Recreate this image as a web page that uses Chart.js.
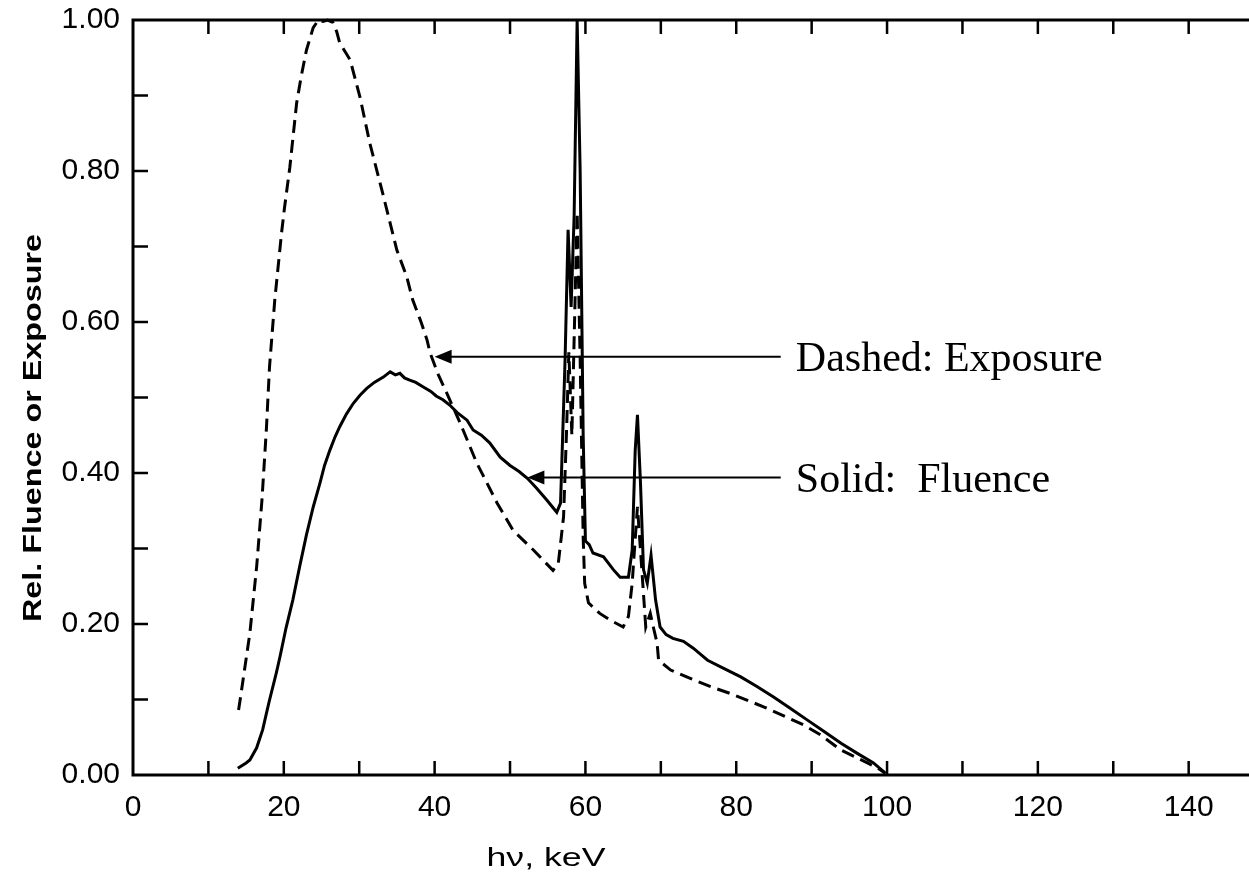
<!DOCTYPE html>
<html>
<head>
<meta charset="utf-8">
<script src="https://cdn.jsdelivr.net/npm/chart.js@4.4.1/dist/chart.umd.min.js"></script>
<style>
  html, body { margin: 0; padding: 0; background: #fff; }
  #wrap { width: 1249px; height: 882px; }
</style>
</head>
<body>
<div id="wrap"><canvas id="spectrum" width="1249" height="882"></canvas></div>
<script>
// photon energy (keV) and relative values
const fluenceKeV = [13.9, 15.0, 15.5, 16.4, 17.2, 17.7, 18.1, 19.0, 19.5, 20.3, 21.2, 22.1, 23.0, 23.9, 24.8, 25.4, 26.1, 26.8, 27.4, 28.3, 29.2, 30.1, 31.0, 32.0, 33.2, 34.1, 34.8, 35.4, 36.0, 36.7, 37.5, 38.5, 39.5, 40.2, 41.1, 42.0, 43.0, 44.3, 45.1, 46.2, 47.3, 48.7, 50.0, 51.2, 52.3, 53.5, 54.9, 56.2, 56.7, 57.3, 57.7, 58.1, 58.5, 58.9, 59.3, 59.7, 60.0, 60.5, 61.0, 62.4, 63.7, 64.6, 65.7, 66.2, 66.6, 66.9, 67.3, 67.7, 68.2, 68.7, 69.3, 69.9, 70.7, 71.6, 73.0, 74.3, 76.2, 78.4, 80.6, 82.8, 85.0, 87.2, 89.4, 91.6, 93.9, 96.0, 98.2, 99.7];
const fluence = [0.009, 0.016, 0.020, 0.036, 0.060, 0.082, 0.099, 0.135, 0.157, 0.195, 0.232, 0.276, 0.318, 0.355, 0.387, 0.410, 0.430, 0.448, 0.461, 0.478, 0.492, 0.503, 0.512, 0.520, 0.527, 0.534, 0.530, 0.532, 0.526, 0.523, 0.520, 0.514, 0.508, 0.502, 0.497, 0.490, 0.480, 0.470, 0.457, 0.450, 0.440, 0.421, 0.410, 0.402, 0.393, 0.380, 0.364, 0.348, 0.360, 0.550, 0.722, 0.620, 0.740, 1.000, 0.800, 0.450, 0.310, 0.305, 0.294, 0.289, 0.272, 0.262, 0.262, 0.298, 0.430, 0.477, 0.387, 0.272, 0.254, 0.291, 0.232, 0.196, 0.186, 0.181, 0.177, 0.168, 0.152, 0.141, 0.130, 0.117, 0.103, 0.088, 0.073, 0.058, 0.042, 0.029, 0.016, 0.003];

const exposureKeV = [14.0, 14.2, 15.5, 16.4, 17.1, 17.7, 18.1, 18.8, 19.7, 20.1, 20.8, 21.7, 22.3, 23.0, 23.9, 24.6, 25.2, 25.8, 26.5, 27.0, 27.4, 28.8, 30.1, 31.4, 33.1, 35.0, 36.3, 37.1, 38.2, 39.0, 39.4, 40.5, 41.6, 43.4, 45.6, 48.3, 50.4, 53.1, 55.7, 56.4, 57.1, 57.5, 57.8, 58.2, 58.9, 59.3, 59.7, 59.9, 60.4, 61.9, 63.3, 65.0, 65.7, 66.2, 66.5, 66.9, 67.3, 68.0, 68.6, 69.0, 69.5, 69.7, 71.3, 73.9, 76.6, 79.2, 83.7, 89.0, 91.2, 93.9, 97.4, 99.1, 99.8];
const exposure = [0.086, 0.099, 0.188, 0.276, 0.364, 0.460, 0.540, 0.629, 0.718, 0.752, 0.805, 0.890, 0.925, 0.960, 0.990, 1.000, 0.998, 1.000, 0.997, 0.985, 0.970, 0.947, 0.898, 0.837, 0.771, 0.695, 0.660, 0.629, 0.600, 0.576, 0.559, 0.530, 0.506, 0.466, 0.413, 0.360, 0.324, 0.298, 0.271, 0.280, 0.342, 0.457, 0.560, 0.450, 0.745, 0.550, 0.315, 0.254, 0.228, 0.214, 0.205, 0.196, 0.210, 0.254, 0.298, 0.355, 0.298, 0.196, 0.214, 0.196, 0.175, 0.152, 0.139, 0.128, 0.117, 0.108, 0.090, 0.066, 0.053, 0.033, 0.016, 0.007, 0.002];

const xTickLabels = [0, 20, 40, 60, 80, 100, 120, 140];
const yTickLabels = ['0.00', '0.20', '0.40', '0.60', '0.80', '1.00'];

// arrow callouts: text, arrow tip (keV, value), arrow tail keV
const noteText = ['Dashed: Exposure', 'Solid:  Fluence'];
const noteTipKeV = [40.0, 52.3];
const noteTipVal = [0.554, 0.394];
const noteTailKeV = 85.9;
const noteTextKeV = 87.9;

const toPoints = (xs, ys) => xs.map((x, i) => ({ x: x, y: ys[i] }));

const frame = {
    id: 'frame',
    afterDatasetsDraw(chart) {
        const { ctx, chartArea: a, scales: { x, y } } = chart;
        ctx.save();
        ctx.strokeStyle = '#000';
        ctx.lineCap = 'butt';

        // axis lines: left, bottom, top
        ctx.lineWidth = 3;
        ctx.beginPath();
        ctx.moveTo(a.left, a.top);
        ctx.lineTo(a.right, a.top);
        ctx.moveTo(a.left, a.top - 1.5);
        ctx.lineTo(a.left, a.bottom + 1.5);
        ctx.moveTo(a.left, a.bottom);
        ctx.lineTo(a.right, a.bottom);
        ctx.stroke();

        // inward ticks every 10 keV and every 0.1
        ctx.lineWidth = 2.5;
        ctx.beginPath();
        for (let v = 10; v <= 140; v += 10) {
            const px = x.getPixelForValue(v);
            ctx.moveTo(px, a.bottom);
            ctx.lineTo(px, a.bottom - 14);
            ctx.moveTo(px, a.top);
            ctx.lineTo(px, a.top + 14);
        }
        for (let k = 1; k < 10; k++) {
            const py = y.getPixelForValue(k / 10);
            ctx.moveTo(a.left, py);
            ctx.lineTo(a.left + 15, py);
        }
        ctx.stroke();

        // callout arrows and text
        ctx.lineWidth = 2;
        ctx.fillStyle = '#000';
        ctx.font = '42px "Liberation Serif", "Times New Roman", serif';
        ctx.textBaseline = 'alphabetic';
        ctx.textAlign = 'left';
        noteText.forEach((t, i) => {
            const tipX = x.getPixelForValue(noteTipKeV[i]);
            const py = y.getPixelForValue(noteTipVal[i]);
            const tailX = x.getPixelForValue(noteTailKeV);
            ctx.beginPath();
            ctx.moveTo(tailX, py);
            ctx.lineTo(tipX + 14, py);
            ctx.stroke();
            ctx.beginPath();
            ctx.moveTo(tipX, py);
            ctx.lineTo(tipX + 17, py - 7);
            ctx.lineTo(tipX + 17, py + 7);
            ctx.closePath();
            ctx.fill();
            ctx.fillText(t, x.getPixelForValue(noteTextKeV), py + 14);
        });

        // axis titles (the original lettering is wide, so stretch it)
        ctx.textAlign = 'center';
        ctx.textBaseline = 'middle';
        ctx.font = 'bold 25px "Liberation Sans", Arial, sans-serif';
        const yTitle = 'Rel. Fluence or Exposure';
        const yw = ctx.measureText(yTitle).width;
        ctx.save();
        ctx.translate(34, 428);
        ctx.rotate(-Math.PI / 2);
        ctx.scale(388 / yw, 1);
        ctx.fillText(yTitle, 0, 0);
        ctx.restore();

        ctx.font = '26px "Liberation Sans", Arial, sans-serif';
        const xTitle = 'h\u03bd, keV';
        const xw = ctx.measureText(xTitle).width;
        ctx.save();
        ctx.translate(546, 859);
        ctx.scale(119 / xw, 1);
        ctx.fillText(xTitle, 0, 0);
        ctx.restore();

        ctx.restore();
    }
};

const tickFont = { family: '"Liberation Sans", Arial, sans-serif', size: 30 };

new Chart(document.getElementById('spectrum'), {
    type: 'line',
    data: {
        datasets: [{
            label: 'Fluence',
            data: toPoints(fluenceKeV, fluence),
            borderColor: '#000',
            borderWidth: 3,
            pointRadius: 0,
            tension: 0,
            fill: false,
            clip: false
        }, {
            label: 'Exposure',
            data: toPoints(exposureKeV, exposure),
            borderColor: '#000',
            borderWidth: 3,
            borderDash: [13, 7],
            pointRadius: 0,
            tension: 0,
            fill: false,
            clip: false
        }]
    },
    options: {
        responsive: false,
        animation: false,
        devicePixelRatio: 1,
        layout: { padding: { top: 20, right: 0, left: 0, bottom: 0 } },
        plugins: {
            legend: { display: false },
            tooltip: { enabled: false }
        },
        scales: {
            x: {
                type: 'linear',
                min: 0,
                max: 148,
                afterFit: (s) => { s.height = 107; s.paddingLeft = 0; s.paddingRight = 0; },
                afterBuildTicks: (s) => { s.ticks = xTickLabels.map(v => ({ value: v })); },
                grid: { display: false, drawTicks: false },
                border: { display: false },
                ticks: {
                    color: '#000',
                    padding: 15,
                    maxRotation: 0,
                    font: tickFont
                }
            },
            y: {
                min: 0,
                max: 1,
                afterFit: (s) => { s.width = 133; s.paddingTop = 0; s.paddingBottom = 0; },
                afterBuildTicks: (s) => { s.ticks = yTickLabels.map(v => ({ value: parseFloat(v) })); },
                grid: { display: false, drawTicks: false },
                border: { display: false },
                ticks: {
                    color: '#000',
                    padding: 13,
                    font: tickFont,
                    callback: (v) => v.toFixed(2)
                }
            }
        }
    },
    plugins: [frame]
});
</script>
</body>
</html>
